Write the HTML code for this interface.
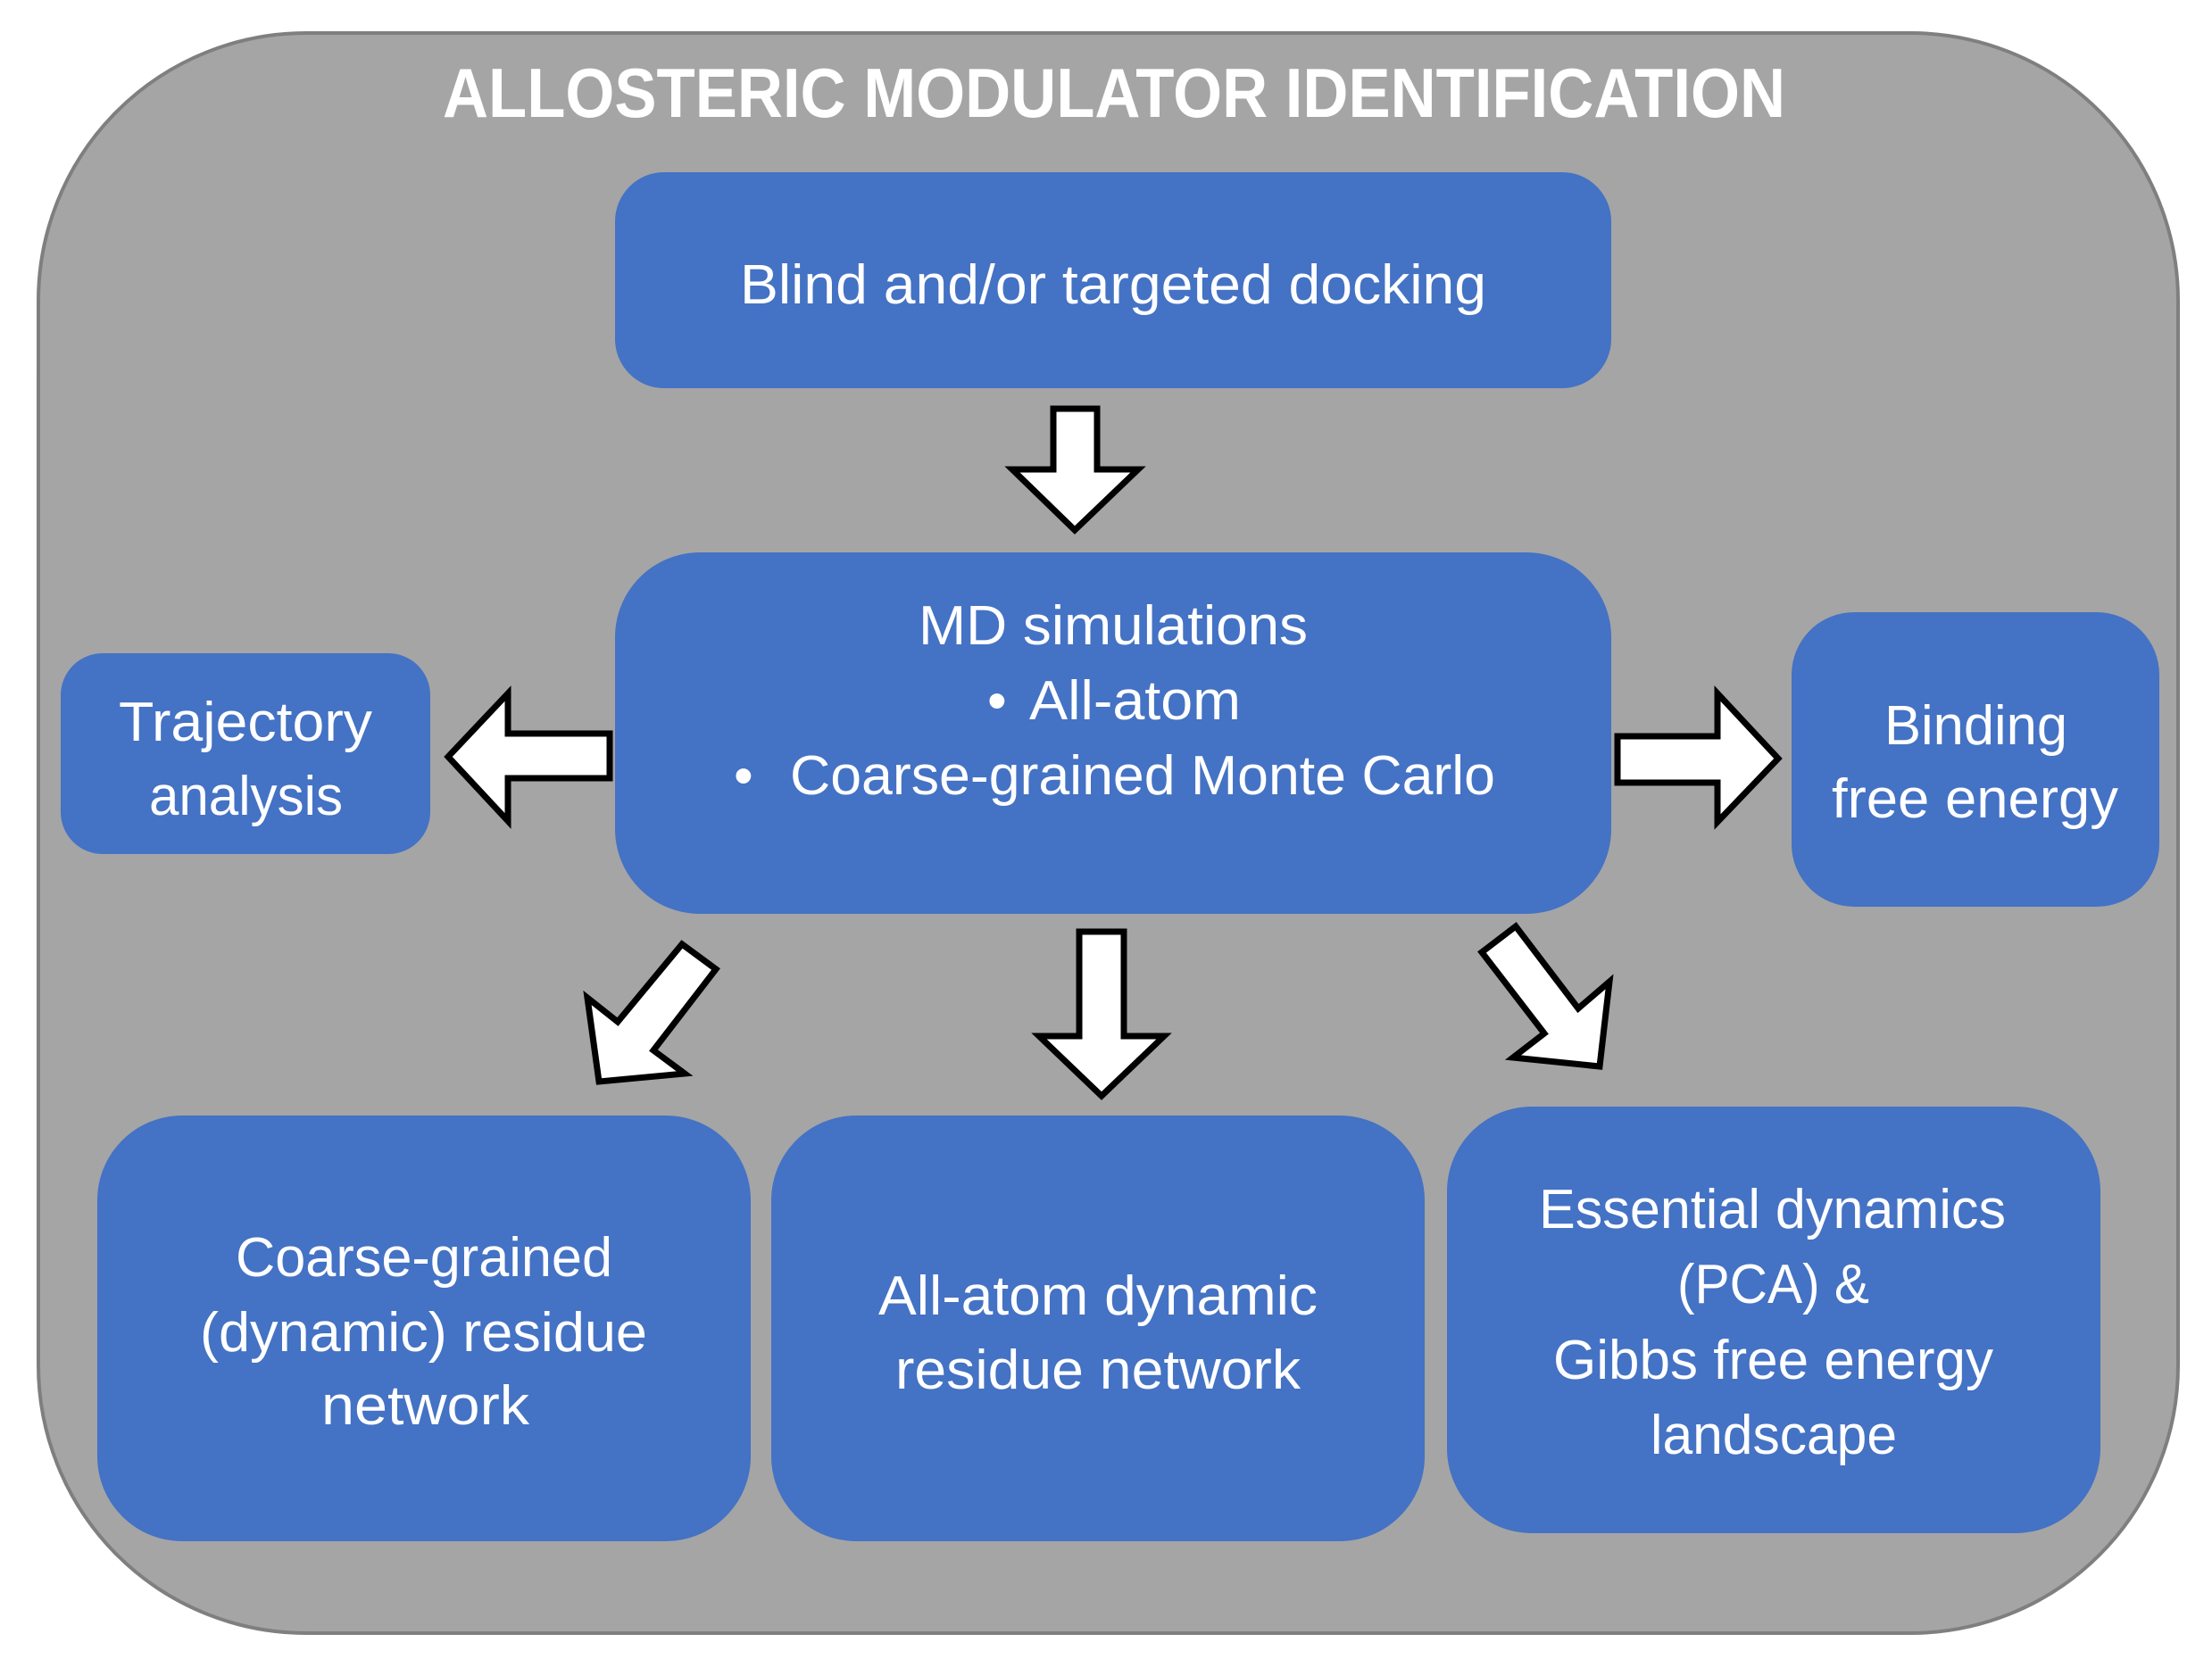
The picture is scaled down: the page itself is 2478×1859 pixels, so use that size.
<!DOCTYPE html>
<html><head><meta charset="utf-8"><style>html,body{margin:0;padding:0;background:#fff}svg{display:block}</style></head>
<body>
<svg width="2478" height="1859" viewBox="0 0 2478 1859" xmlns="http://www.w3.org/2000/svg">
<rect x="43" y="37" width="2397" height="1793" rx="300" ry="300" fill="#a5a5a5" stroke="#7f7f7f" stroke-width="4"/>
<g font-family="Liberation Sans, sans-serif" fill="#fff">
<text x="496" y="131" font-size="78" font-weight="bold" textLength="1504" lengthAdjust="spacingAndGlyphs">ALLOSTERIC MODULATOR IDENTIFICATION</text>
</g>
<g fill="#4472c4">
<rect x="689" y="193" width="1116" height="242" rx="55"/>
<rect x="689" y="619" width="1116" height="405" rx="95"/>
<rect x="68" y="732" width="414" height="225" rx="47"/>
<rect x="2007" y="686" width="412" height="330" rx="70"/>
<rect x="109" y="1250" width="732" height="477" rx="95"/>
<rect x="864" y="1250" width="732" height="477" rx="95"/>
<rect x="1621" y="1240" width="732" height="478" rx="95"/>
</g>
<g fill="#fff" stroke="#000" stroke-width="7" stroke-linejoin="miter">
<polygon points="1180,458 1229,458 1229,526 1275,526 1204,594 1134,526 1180,526"/>
<polygon points="683,822 683,872 569,872 569,920 502,848 569,777 569,822"/>
<polygon points="1812,825 1924,825 1924,777 1992,850 1924,921 1924,877 1812,877"/>
<polygon points="1209,1044 1259,1044 1259,1161 1304,1161 1234,1228 1164,1161 1209,1161"/>
<polygon points="764,1058 802,1086 732,1177 767,1203 671,1212 658,1118 692,1145"/>
<polygon points="1660,1067 1698,1038 1768,1130 1803,1100 1792,1195 1695,1185 1730,1158"/>
</g>
<g font-family="Liberation Sans, sans-serif" fill="#fff" font-size="62">
<text x="829" y="340" textLength="836" lengthAdjust="spacingAndGlyphs">Blind and/or targeted docking</text>
<text x="1029" y="722" textLength="436" lengthAdjust="spacingAndGlyphs">MD simulations</text>
<text x="1106" y="806">•</text>
<text x="1153" y="806" textLength="237" lengthAdjust="spacingAndGlyphs">All-atom</text>
<text x="822" y="890">•</text>
<text x="885" y="890" textLength="790" lengthAdjust="spacingAndGlyphs">Coarse-grained Monte Carlo</text>
<text x="133" y="830" textLength="284" lengthAdjust="spacingAndGlyphs">Trajectory</text>
<text x="167" y="913" textLength="217" lengthAdjust="spacingAndGlyphs">analysis</text>
<text x="2111" y="834" textLength="205" lengthAdjust="spacingAndGlyphs">Binding</text>
<text x="2052" y="916" textLength="321" lengthAdjust="spacingAndGlyphs">free energy</text>
<text x="264" y="1430" textLength="422" lengthAdjust="spacingAndGlyphs">Coarse-grained</text>
<text x="224" y="1514" textLength="501" lengthAdjust="spacingAndGlyphs">(dynamic) residue</text>
<text x="360" y="1596" textLength="233" lengthAdjust="spacingAndGlyphs">network</text>
<text x="984" y="1473" textLength="492" lengthAdjust="spacingAndGlyphs">All-atom dynamic</text>
<text x="1003" y="1556" textLength="454" lengthAdjust="spacingAndGlyphs">residue network</text>
<text x="1724" y="1376" textLength="523" lengthAdjust="spacingAndGlyphs">Essential dynamics</text>
<text x="1879" y="1460" textLength="215" lengthAdjust="spacingAndGlyphs">(PCA) &amp;</text>
<text x="1740" y="1545" textLength="493" lengthAdjust="spacingAndGlyphs">Gibbs free energy</text>
<text x="1849" y="1629" textLength="276" lengthAdjust="spacingAndGlyphs">landscape</text>
</g>
</svg>
</body></html>
